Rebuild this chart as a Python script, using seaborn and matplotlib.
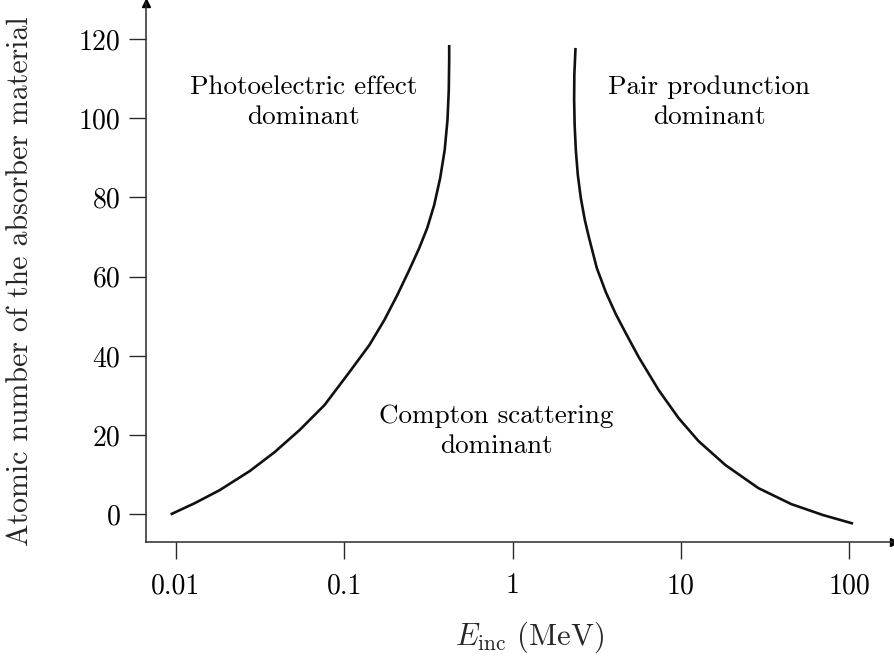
import numpy as np
import pandas as pd
import matplotlib
matplotlib.use("Agg")
import matplotlib.pyplot as plt
import seaborn as sns

# Boundary where photoelectric absorption and Compton scattering are equally likely
photo_E = [0.00930, 0.01296, 0.01823, 0.02744, 0.03862, 0.05430, 0.07638, 0.1074,
           0.1411, 0.1732, 0.2068, 0.2435, 0.2792, 0.3114, 0.3425, 0.3718,
           0.3954, 0.4108, 0.4182, 0.4205, 0.4205]
photo_Z = [0.0, 2.85, 6.14, 10.93, 15.73, 21.29, 27.60, 35.93,
           42.75, 49.07, 55.38, 61.69, 67.25, 72.30, 78.11, 84.92,
           92.0, 99.57, 107.15, 114.72, 118.5]

# Boundary where Compton scattering and pair production are equally likely
pair_E = [2.368, 2.330, 2.324, 2.340, 2.378, 2.444, 2.546, 2.690, 2.841, 3.168,
          3.582, 4.106, 4.706, 5.618, 7.382, 9.698, 12.74, 18.42, 28.89, 45.33,
          70.13, 105.6]
pair_Z = [117.75, 110.93, 104.62, 98.31, 92.0, 85.68, 79.87, 74.32, 70.03, 62.20,
          56.14, 50.58, 45.78, 39.72, 31.39, 24.32, 18.51, 12.45, 6.64, 2.60,
          -0.18, -2.32]

x_ticks = [0.01, 0.1, 1, 10, 100]
x_tick_labels = ["0.01", "0.1", "1", "10", "100"]
y_ticks = [0, 20, 40, 60, 80, 100, 120]

sns.set_theme(style="white")
plt.rcParams["font.family"] = ["cmr10", "DejaVu Serif"]
plt.rcParams["mathtext.fontset"] = "cm"
plt.rcParams["axes.formatter.use_mathtext"] = True

curves = pd.concat([
    pd.DataFrame({"E": photo_E, "Z": photo_Z, "boundary": "photo"}),
    pd.DataFrame({"E": pair_E, "Z": pair_Z, "boundary": "pair"}),
], ignore_index=True)

fig = plt.figure(figsize=(8.95, 6.6), dpi=100)
ax = fig.add_axes([0.1631, 0.1792, 0.8358, 0.8163])

sns.lineplot(data=curves, x="E", y="Z", units="boundary", estimator=None,
             sort=False, color="#111111", linewidth=1.9, ax=ax, legend=False,
             solid_joinstyle="round", solid_capstyle="butt")

ax.set_xscale("log")
ax.set_xlim(10 ** -2.178, 10 ** 2.267)
ax.set_ylim(-6.9, 129.1)

ax.set_xticks(x_ticks)
ax.set_xticklabels(x_tick_labels)
ax.xaxis.set_minor_locator(matplotlib.ticker.NullLocator())
ax.set_yticks(y_ticks)
ax.set_yticklabels([str(v) for v in y_ticks])

axis_color = "#2a2a2a"
for side in ("top", "right"):
    ax.spines[side].set_visible(False)
for side in ("left", "bottom"):
    ax.spines[side].set_color(axis_color)
    ax.spines[side].set_linewidth(1.1)

ax.tick_params(axis="both", which="major", direction="out", length=12.5,
               width=1.0, color=axis_color, labelsize=20, labelcolor="black",
               bottom=True, left=True)
ax.tick_params(axis="x", pad=10)
ax.tick_params(axis="y", pad=6)

# Arrow heads at the ends of both axes
ax.plot(1, 0, ">", transform=ax.transAxes, color="black", markersize=6, clip_on=False)
ax.plot(0, 1, "^", transform=ax.transAxes, color="black", markersize=6, clip_on=False)

ax.set_xlabel(r"$E_{\rm inc}$ (MeV)", fontsize=22)
ax.xaxis.set_label_coords(0.513, -0.145)
ax.set_ylabel("Atomic number of the absorber material", fontsize=21.5)
ax.yaxis.set_label_coords(-0.150, 0.483)

text_kw = dict(ha="center", va="center", fontsize=19.5, linespacing=1.32, color="black")
ax.text(0.0573, 104.0, "Photoelectric effect\ndominant", **text_kw)
ax.text(14.8, 104.0, "Pair produnction\ndominant", **text_kw)
ax.text(0.80, 21.0, "Compton scattering\ndominant", **text_kw)

ax.grid(False)
fig.savefig("out.png", dpi=100)
